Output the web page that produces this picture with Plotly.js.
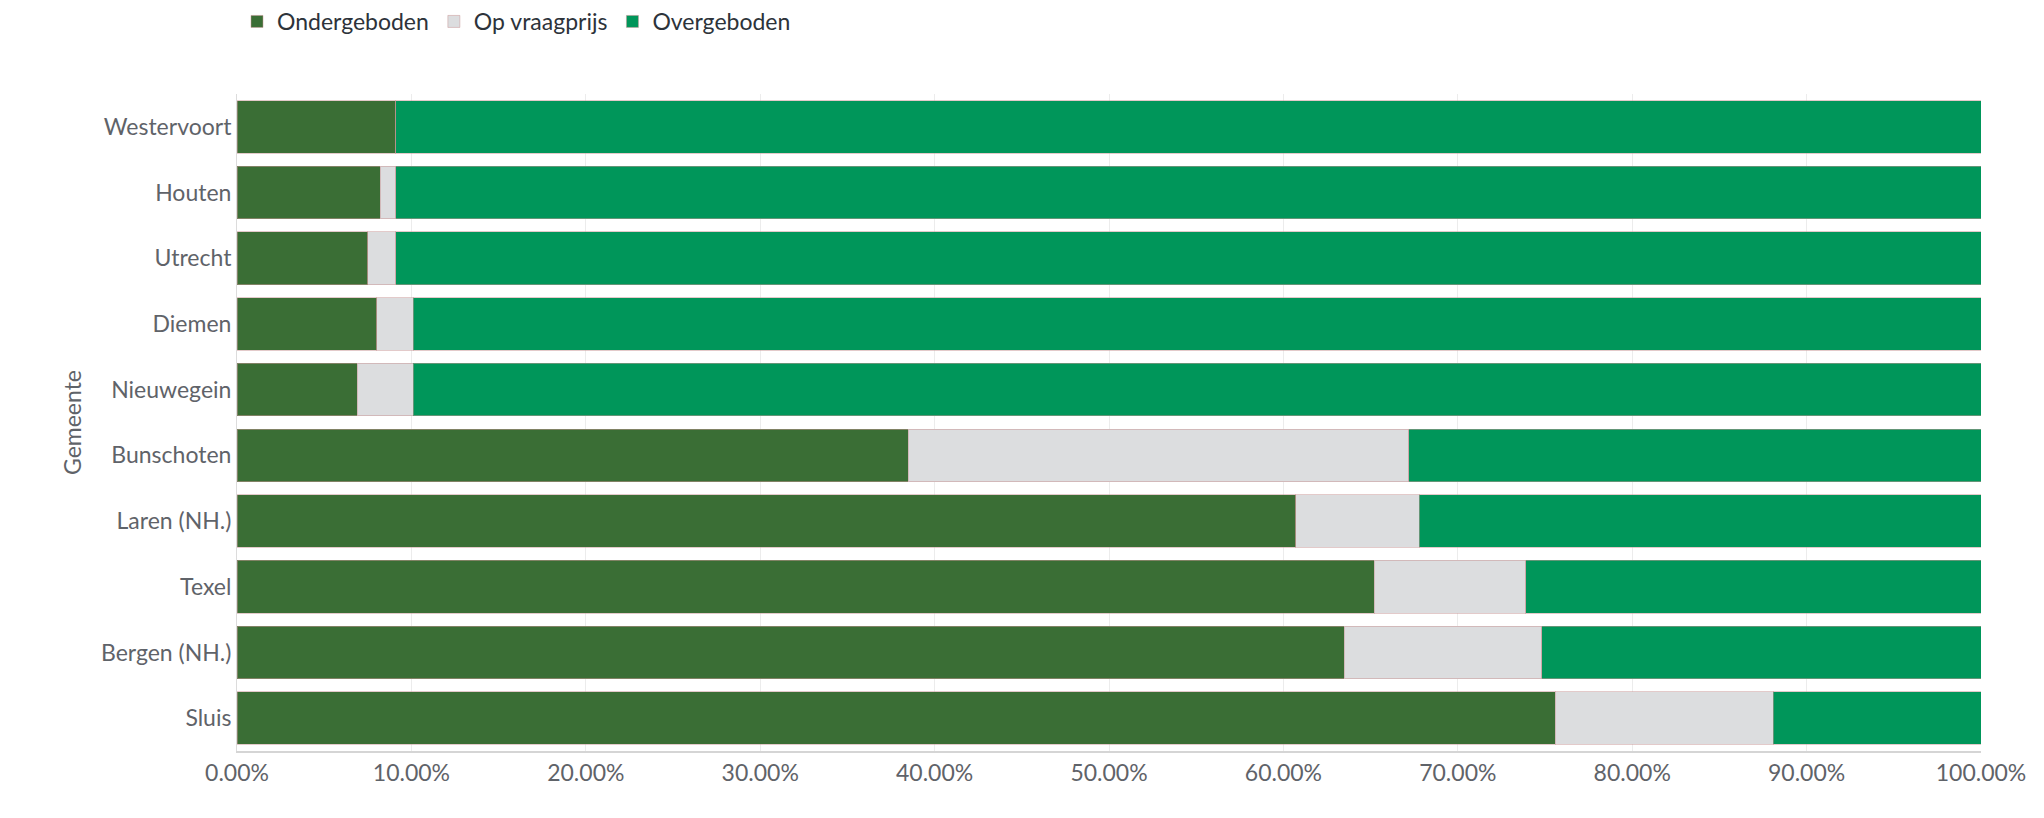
<!DOCTYPE html>
<html><head><meta charset="utf-8">
<script src="https://cdn.plot.ly/plotly-3.0.1.min.js"></script>
<style>body{margin:0;background:#fff}#c{width:2044px;height:818px}</style>
</head><body><div id="c"></div>
<script>
const gemeenten = ["Westervoort","Houten","Utrecht","Diemen","Nieuwegein","Bunschoten","Laren (NH.)","Texel","Bergen (NH.)","Sluis"];
const ondergeboden = [9.1, 8.2, 7.5, 8.0, 6.9, 38.5, 60.7, 65.2, 63.5, 75.6];
const opVraagprijs = [0.0, 0.9, 1.6, 2.1, 3.2, 28.7, 7.1, 8.7, 11.3, 12.5];
const overgeboden = [90.9, 90.9, 90.9, 89.9, 89.9, 32.8, 32.2, 26.1, 25.2, 11.9];
const tickVals = [0,10,20,30,40,50,60,70,80,90,100];
const tickText = tickVals.map(v => v.toFixed(2) + "%");

const mk = (name, x, color) => ({
  type: "bar", orientation: "h", name, x, y: gemeenten,
  marker: {color, line: {color: "rgba(200,150,150,0.5)", width: 1}},
  hovertemplate: "%{y}: %{x:.2f}%<extra>" + name + "</extra>"
});
const data = [
  mk("Ondergeboden", ondergeboden, "#3a6e35"),
  mk("Op vraagprijs", opVraagprijs, "#dcdddf"),
  mk("Overgeboden", overgeboden, "#00965a")
];
const layout = {
  barmode: "stack", bargap: 0.2,
  font: {family: "Lato, 'Open Sans', sans-serif", size: 23, color: "#5f6369"},
  margin: {l: 237, r: 63, t: 94, b: 67},
  paper_bgcolor: "#fff", plot_bgcolor: "#fff",
  showlegend: true,
  legend: {orientation: "h", x: 0, xanchor: "left", y: 1, yref: "container", yanchor: "top",
    font: {size: 23, color: "#2d333a"}, itemwidth: 30, traceorder: "normal"},
  xaxis: {range: [0, 100], tickvals: tickVals, ticktext: tickText, showgrid: true,
    gridcolor: "#ececec", zeroline: false, showline: true, linecolor: "#d5d5d5", linewidth: 2,
    ticks: "", ticklen: 8, tickfont: {size: 23, color: "#5f6369"}, fixedrange: true},
  yaxis: {autorange: "reversed", title: {text: "Gemeente", font: {size: 23, color: "#5f6369"}, standoff: 12},
    ticks: "", ticklen: 10, tickcolor: "#fff", showline: true, linecolor: "#dcdcdc", tickfont: {size: 23, color: "#5f6369"}}
};
Plotly.newPlot("c", data, layout, {displayModeBar: false, responsive: false});
</script></body></html>
